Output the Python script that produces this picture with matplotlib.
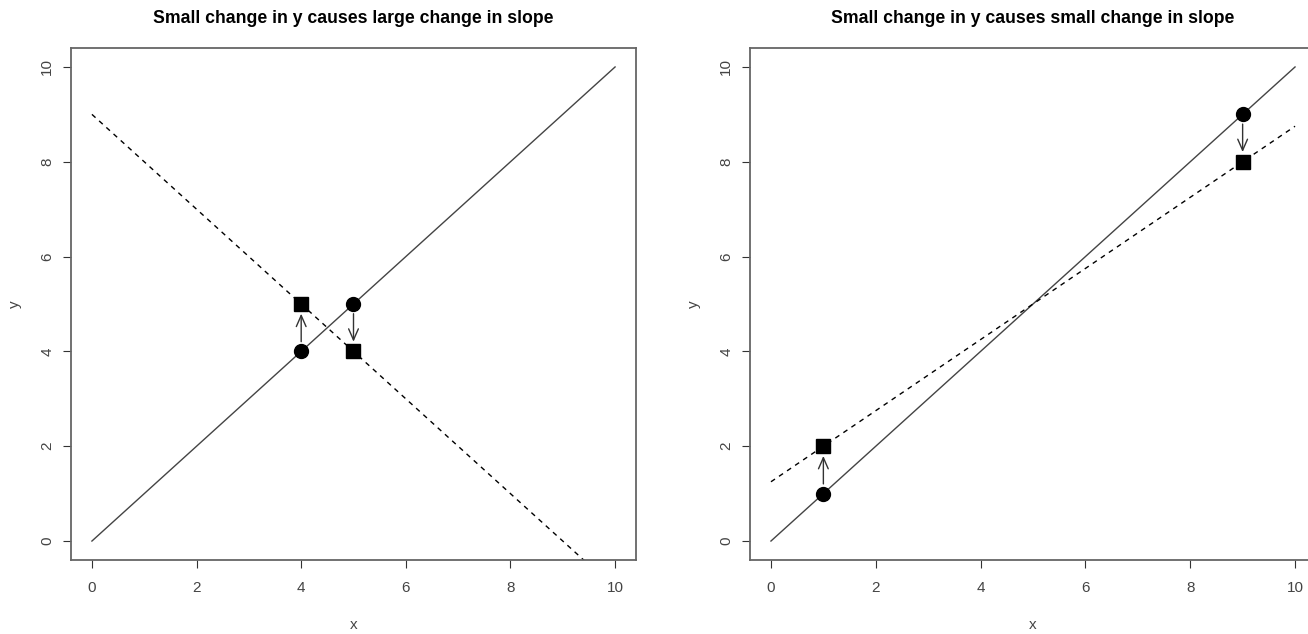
import matplotlib
matplotlib.use("Agg")
import matplotlib.pyplot as plt

plt.rcParams["font.family"] = ["Liberation Sans", "DejaVu Sans"]

# left panel: points close to each other
left_x = [4, 5]
left_y_before = [4, 5]
left_y_after = [5, 4]
left_solid = ([0, 10], [0, 10])
left_dashed = ([0, 10], [9, -1])

# right panel: points far apart
right_x = [1, 9]
right_y_before = [1, 9]
right_y_after = [2, 8]
right_solid = ([0, 10], [0, 10])
right_dashed = ([0, 10], [1.25, 8.75])

titles = ["Small change in y causes large change in slope",
          "Small change in y causes small change in slope"]
ticks = [0, 2, 4, 6, 8, 10]

fig = plt.figure(figsize=(13.08, 6.34), dpi=100)
ax1 = fig.add_axes([71 / 1308, 74 / 634, 565 / 1308, 512 / 634])
ax2 = fig.add_axes([750 / 1308, 74 / 634, 566 / 1308, 512 / 634])

panels = [
    (ax1, left_x, left_y_before, left_y_after, left_solid, left_dashed, titles[0]),
    (ax2, right_x, right_y_before, right_y_after, right_solid, right_dashed, titles[1]),
]

for ax, px, yb, ya, solid, dashed, title in panels:
    ax.plot(solid[0], solid[1], color="#444444", lw=1.0)
    ax.plot(dashed[0], dashed[1], color="black", lw=1.0, ls=(0, (3.5, 3.5)))
    for xi, y0, y1 in zip(px, yb, ya):
        ax.annotate("", xy=(xi, y1), xytext=(xi, y0),
                    arrowprops=dict(arrowstyle="->,head_length=0.8,head_width=0.35",
                                    color="#333333", lw=1.0,
                                    shrinkA=7, shrinkB=7))
    ax.plot(px, yb, "o", color="black", ms=10)
    ax.plot(px, ya, "s", color="black", ms=9.5)

    ax.set_xlim(-0.4, 10.4)
    ax.set_ylim(-0.4, 10.4)
    ax.set_xticks(ticks)
    ax.set_yticks(ticks)
    ax.tick_params(direction="out", length=6, width=0.8, color="#333333",
                   labelsize=11, labelcolor="#444444", pad=9)
    ax.tick_params(axis="y", pad=6)
    for lab in ax.get_yticklabels():
        lab.set_rotation(90)
        lab.set_va("center")
    for sp in ax.spines.values():
        sp.set_color("#666666")
        sp.set_linewidth(1.3)
    ax.set_xlabel("x", fontsize=11, color="#444444", labelpad=17)
    ax.set_ylabel("y", fontsize=11, color="#444444", labelpad=13)
    ax.set_title(title, fontsize=12.7, fontweight="bold", pad=18)

fig.savefig("out.png", dpi=100)
